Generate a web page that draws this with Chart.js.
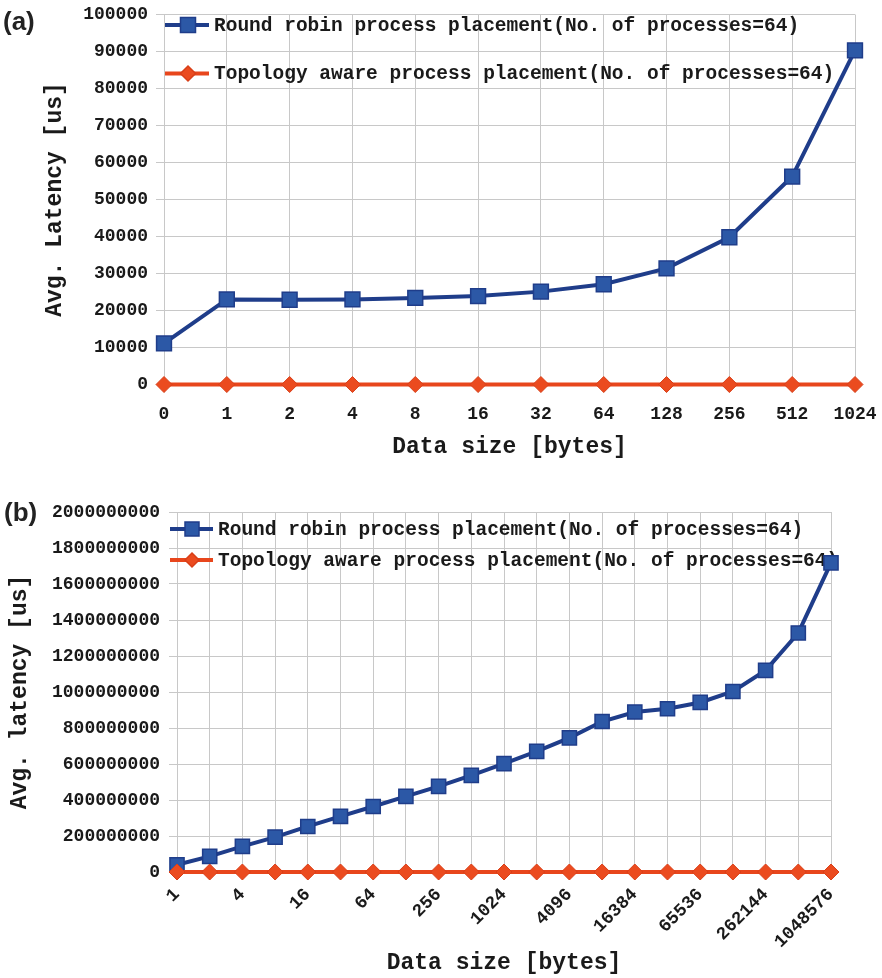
<!DOCTYPE html>
<html>
<head>
<meta charset="utf-8">
<script src="https://cdn.jsdelivr.net/npm/chart.js@4.4.1/dist/chart.umd.min.js"></script>
<style>
  body { margin: 0; background: #fff; width: 882px; height: 978px; overflow: hidden; position: relative; }
  .panel { position: absolute; left: 0; }
  #pa { top: 0; }
  #pb { top: 478px; }
  .tag { position: absolute; font-family: "Liberation Sans", Arial, sans-serif; font-weight: bold; font-size: 26px; color: #222; line-height: 1; }
</style>
</head>
<body>
<div class="panel" id="pa"><canvas id="ca" width="882" height="470"></canvas></div>
<div class="panel" id="pb"><canvas id="cb" width="882" height="500"></canvas></div>
<div class="tag" style="left:3px;top:8px">(a)</div>
<div class="tag" style="left:4px;top:499px">(b)</div>
<script>
// Series names shared by both panels
const seriesNames = [
  'Round robin process placement(No. of processes=64)',
  'Topology aware process placement(No. of processes=64)'
];

// Panel (a): message sizes 0..1024 bytes, latency in us
const sizesA = ['0', '1', '2', '4', '8', '16', '32', '64', '128', '256', '512', '1024'];
const roundRobinA = [11100, 23000, 22900, 23000, 23400, 23900, 25100, 27100, 31400, 39800, 56200, 90300];
const topologyA = [0, 0, 0, 0, 0, 0, 0, 0, 0, 0, 0, 0];

// Panel (b): message sizes 1..1048576 bytes, latency in us
const sizesB = ['1', '2', '4', '8', '16', '32', '64', '128', '256', '512', '1024', '2048', '4096',
  '8192', '16384', '32768', '65536', '131072', '262144', '524288', '1048576'];
const roundRobinB = [40e6, 87e6, 142e6, 194e6, 253e6, 309e6, 364e6, 420e6, 476e6, 537e6, 602e6,
  670e6, 745e6, 836e6, 889e6, 907e6, 942e6, 1003e6, 1120e6, 1328e6, 1717e6];
const topologyB = [0, 0, 0, 0, 0, 0, 0, 0, 0, 0, 0, 0, 0, 0, 0, 0, 0, 0, 0, 0, 0];

const MONO = '"Liberation Mono", "DejaVu Sans Mono", monospace';
const BLUE_LINE = '#1f3d8a';
const BLUE_FILL = '#2c58a6';
const RED_LINE = '#e8461c';
const RED_FILL = '#eb4b1f';
const GRID = '#c8c8c8';

// Legend drawn inside the plot area, under the data lines
const insideLegend = {
  id: 'insideLegend',
  beforeDatasetsDraw(chart, args, opts) {
    const { ctx, chartArea } = chart;
    ctx.save();
    chart.data.datasets.forEach((ds, i) => {
      const y = chartArea.top + opts.rows[i];
      const x0 = chartArea.left + opts.lineFrom;
      const x1 = chartArea.left + opts.lineTo;
      const mx = chartArea.left + opts.markAt;
      ctx.strokeStyle = ds.borderColor;
      ctx.lineWidth = ds.borderWidth;
      ctx.beginPath();
      ctx.moveTo(x0, y);
      ctx.lineTo(x1, y);
      ctx.stroke();
      ctx.fillStyle = ds.pointBackgroundColor;
      ctx.strokeStyle = ds.pointBorderColor;
      ctx.lineWidth = 1.5;
      ctx.beginPath();
      if (ds.pointStyle === 'rect') {
        const h = opts.square / 2;
        ctx.rect(mx - h, y - h, 2 * h, 2 * h);
      } else {
        const h = opts.diamond / 2;
        ctx.moveTo(mx, y - h);
        ctx.lineTo(mx + h, y);
        ctx.lineTo(mx, y + h);
        ctx.lineTo(mx - h, y);
        ctx.closePath();
      }
      ctx.fill();
      ctx.stroke();
      ctx.fillStyle = '#1a1a1a';
      ctx.font = 'bold ' + opts.fontSize + 'px ' + MONO;
      ctx.textBaseline = 'middle';
      ctx.textAlign = 'left';
      ctx.fillText(ds.label, chartArea.left + opts.textAt, y + 1);
    });
    ctx.restore();
  }
};

function datasets(rr, topo, sq, dm) {
  return [
    {
      label: seriesNames[0], data: rr, order: 1,
      borderColor: BLUE_LINE, borderWidth: 4, tension: 0,
      pointStyle: 'rect', pointRadius: sq, pointHoverRadius: sq,
      pointBackgroundColor: BLUE_FILL, pointBorderColor: BLUE_LINE, pointBorderWidth: 1.5,
      clip: false
    },
    {
      label: seriesNames[1], data: topo, order: 0,
      borderColor: RED_LINE, borderWidth: 4, tension: 0,
      pointStyle: 'rectRot', pointRadius: dm, pointHoverRadius: dm,
      pointBackgroundColor: RED_FILL, pointBorderColor: '#d93f18', pointBorderWidth: 1,
      clip: false
    }
  ];
}

function gridOpts() {
  return { color: GRID, lineWidth: 1, drawTicks: true, tickLength: 8, tickColor: GRID };
}

// Fixed axis sizes so the plot area sits exactly where the layout padding puts it
function fixX(h) {
  return s => { s.height = h; s.paddingLeft = 0; s.paddingRight = 0; };
}
function fixY(w) {
  return s => { s.width = w; s.paddingTop = 0; s.paddingBottom = 0; };
}

// Panel (a)
new Chart(document.getElementById('ca'), {
  type: 'line',
  data: { labels: sizesA, datasets: datasets(roundRobinA, topologyA, 10.5, 8) },
  plugins: [insideLegend],
  options: {
    responsive: false,
    animation: false,
    layout: { padding: { left: 41, top: 14.5, right: 27, bottom: 9 } },
    plugins: {
      legend: { display: false },
      tooltip: { enabled: false },
      insideLegend: { rows: [10.5, 59], lineFrom: 1, lineTo: 45, markAt: 24, textAt: 50, square: 15, diamond: 15, fontSize: 19.5 }
    },
    scales: {
      x: {
        offset: false,
        grid: gridOpts(),
        border: { color: GRID },
        ticks: { autoSkip: false, maxRotation: 0, color: '#1a1a1a', padding: 11,
          font: { family: MONO, size: 18, weight: 'bold' } },
        title: { display: true, text: 'Data size [bytes]', color: '#1a1a1a', padding: { top: 0, bottom: 0 },
          font: { family: MONO, size: 23, weight: 'bold' } },
        afterFit: fixX(76.5)
      },
      y: {
        min: 0, max: 100000,
        grid: gridOpts(),
        border: { color: GRID },
        ticks: { stepSize: 10000, color: '#1a1a1a', padding: 8,
          font: { family: MONO, size: 18, weight: 'bold' },
          callback: v => String(v) },
        title: { display: true, text: 'Avg. Latency [us]', color: '#1a1a1a', padding: { top: 0, bottom: 0 },
          font: { family: MONO, size: 23, weight: 'bold' } },
        afterFit: fixY(123)
      }
    }
  }
});

// Panel (b)
new Chart(document.getElementById('cb'), {
  type: 'line',
  data: { labels: sizesB, datasets: datasets(roundRobinB, topologyB, 10, 8) },
  plugins: [insideLegend],
  options: {
    responsive: false,
    animation: false,
    layout: { padding: { left: 6, top: 34, right: 51, bottom: 1 } },
    plugins: {
      legend: { display: false },
      tooltip: { enabled: false },
      insideLegend: { rows: [17, 48], lineFrom: -7, lineTo: 36, markAt: 15, textAt: 41, square: 14, diamond: 14, fontSize: 19.5 }
    },
    scales: {
      x: {
        offset: false,
        grid: gridOpts(),
        border: { color: GRID },
        ticks: { autoSkip: false, minRotation: 45, maxRotation: 45, color: '#1a1a1a', padding: 4,
          font: { family: MONO, size: 18, weight: 'bold' },
          callback: function (v, i) { return i % 2 === 0 ? this.getLabelForValue(v) : ''; } },
        title: { display: true, text: 'Data size [bytes]', color: '#1a1a1a', padding: { top: 0, bottom: 0 },
          font: { family: MONO, size: 23, weight: 'bold' } },
        afterFit: fixX(105)
      },
      y: {
        min: 0, max: 2000000000,
        grid: gridOpts(),
        border: { color: GRID },
        ticks: { stepSize: 200000000, color: '#1a1a1a', padding: 9,
          font: { family: MONO, size: 18, weight: 'bold' },
          callback: v => String(v) },
        title: { display: true, text: 'Avg. latency [us]', color: '#1a1a1a', padding: { top: 0, bottom: 0 },
          font: { family: MONO, size: 23, weight: 'bold' } },
        afterFit: fixY(171)
      }
    }
  }
});
</script>
</body>
</html>
